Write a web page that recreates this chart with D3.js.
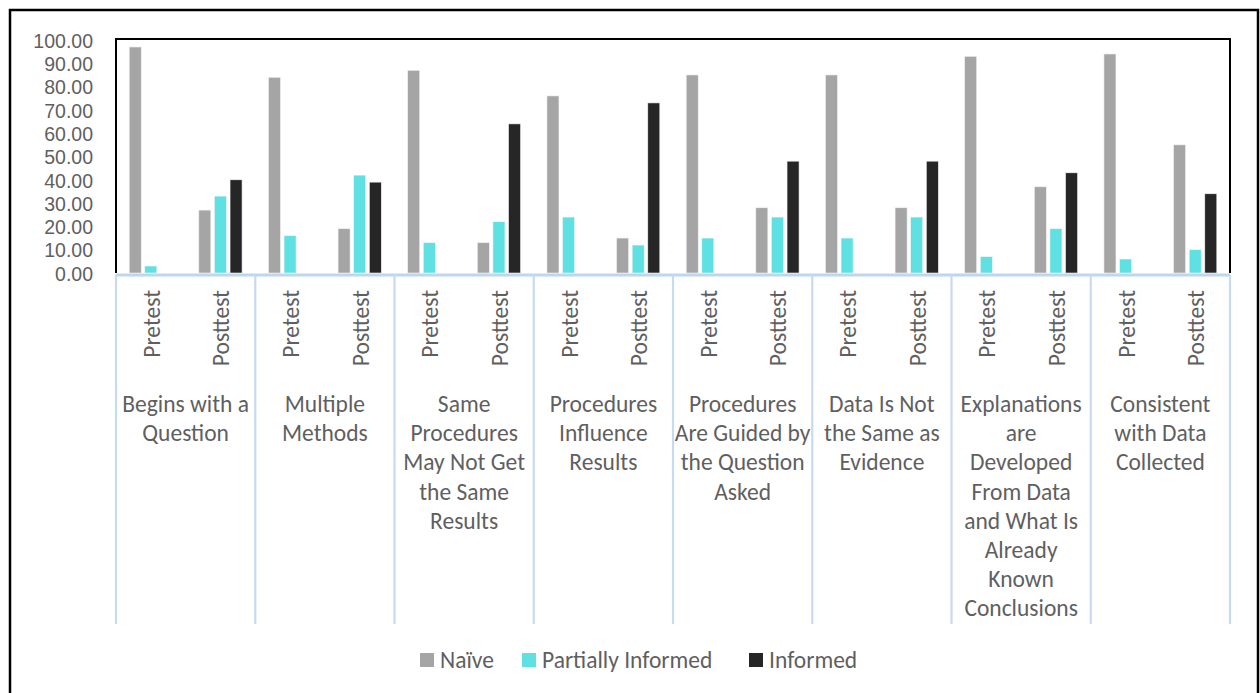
<!DOCTYPE html>
<html>
<head>
<meta charset="utf-8">
<script src="https://cdn.jsdelivr.net/npm/d3@7/dist/d3.min.js"></script>
<style>
  html, body { margin: 0; padding: 0; background: #fff; }
  svg { display: block; }
  text { font-family: Carlito, Lato, "Open Sans", sans-serif; fill: #5f5f5f; }
</style>
</head>
<body>
<svg id="chart" width="1260" height="693"></svg>
<script>
// ---- data ----
const categories = [
  ["Begins with a", "Question"],
  ["Multiple", "Methods"],
  ["Same", "Procedures", "May Not Get", "the Same", "Results"],
  ["Procedures", "Influence", "Results"],
  ["Procedures", "Are Guided by", "the Question", "Asked"],
  ["Data Is Not", "the Same as", "Evidence"],
  ["Explanations", "are", "Developed", "From Data", "and What Is", "Already", "Known", "Conclusions"],
  ["Consistent", "with Data", "Collected"]
];
const phases = ["Pretest", "Posttest"];
const seriesNames = ["Naïve", "Partially Informed", "Informed"];
// values per category: [pretest, posttest]
const naive    = [[97, 27], [84, 19], [87, 13], [76, 15], [85, 28], [85, 28], [93, 37], [94, 55]];
const partial  = [[3, 33], [16, 42], [13, 22], [24, 12], [15, 24], [15, 24], [7, 19], [6, 10]];
const informed = [[0, 40], [0, 39], [0, 64], [0, 73], [0, 48], [0, 48], [0, 43], [0, 34]];
const yTicks = [0, 10, 20, 30, 40, 50, 60, 70, 80, 90, 100];
const colors = ["#a5a5a5", "#5fe1e4", "#262626"];

// ---- layout ----
const svg = d3.select("#chart");
const plot = { left: 116, right: 1230, top: 40, bottom: 273 };
const fontSize = 23.5;
const tickFont = 19.5;

const x0 = d3.scaleBand().domain(d3.range(categories.length)).range([plot.left, plot.right]).padding(0);
const x1 = d3.scaleBand().domain(phases).range([0, x0.bandwidth()]).padding(0);
const x2 = d3.scaleBand().domain(seriesNames).range([0, x1.bandwidth()]).paddingInner(0.23).paddingOuter(0.845);
const y = d3.scaleLinear().domain([0, 100]).range([plot.bottom, plot.top]);

// outer frame
svg.append("rect").attr("x", 10).attr("y", 10).attr("width", 1248).attr("height", 700)
  .attr("fill", "none").attr("stroke", "#000").attr("stroke-width", 2.5);

// bars
const allSeries = [naive, partial, informed];
const barData = [];
categories.forEach((c, ci) => {
  phases.forEach((p, pi) => {
    seriesNames.forEach((s, si) => {
      barData.push({ ci, p, s, si, v: allSeries[si][ci][pi] });
    });
  });
});
svg.append("g").selectAll("rect").data(barData.filter(d => d.v > 0)).join("rect")
  .attr("x", d => x0(d.ci) + x1(d.p) + x2(d.s))
  .attr("y", d => y(d.v))
  .attr("width", x2.bandwidth())
  .attr("height", d => y(0) - y(d.v))
  .attr("fill", d => colors[d.si])
  .attr("stroke", "#f2f2f2").attr("stroke-width", 0.6);

// plot area border (top, left, right)
svg.append("path")
  .attr("d", `M${plot.left},${plot.bottom}V${plot.top - 1}H${plot.right}V${plot.bottom}`)
  .attr("fill", "none").attr("stroke", "#000").attr("stroke-width", 2);

// category axis line
svg.append("line").attr("x1", plot.left).attr("x2", plot.right)
  .attr("y1", plot.bottom + 2).attr("y2", plot.bottom + 2)
  .attr("stroke", "#bdd7ee").attr("stroke-width", 3);

// category dividers
const bounds = d3.range(categories.length + 1).map(i => i < categories.length ? x0(i) : plot.right);
svg.append("g").selectAll("line").data(bounds).join("line")
  .attr("x1", d => d).attr("x2", d => d)
  .attr("y1", plot.bottom + 2).attr("y2", 624)
  .attr("stroke", "#c6dbf0").attr("stroke-width", 2.2);

// y axis
const yAxis = d3.axisLeft(y).tickValues(yTicks).tickSize(0).tickPadding(0)
  .tickFormat(d3.format(".2f"));
const gy = svg.append("g").attr("transform", `translate(93,1)`).call(yAxis);
gy.select(".domain").remove();
gy.selectAll("text").attr("font-size", tickFont)
  .style("font-family", "'Liberation Sans', Arial, sans-serif").style("fill", "#5f5f5f");

// phase labels (rotated)
const phaseLabels = [];
categories.forEach((c, ci) => phases.forEach(p => phaseLabels.push({ ci, p })));
svg.append("g").selectAll("text").data(phaseLabels).join("text")
  .attr("transform", d => `translate(${x0(d.ci) + x1(d.p) + x1.bandwidth() / 2 + 1},290) rotate(-90)`)
  .attr("text-anchor", "end").attr("dominant-baseline", "central")
  .attr("font-size", fontSize)
  .text(d => d.p);

// category labels
const catG = svg.append("g").selectAll("text").data(categories).join("text")
  .attr("text-anchor", "middle").attr("font-size", fontSize);
catG.selectAll("tspan").data((d, i) => d.map((line, li) => ({ line, li, i }))).join("tspan")
  .attr("x", d => x0(d.i) + x0.bandwidth() / 2)
  .attr("y", d => 404 + d.li * 29.2)
  .attr("dominant-baseline", "central")
  .text(d => d.line);

// legend
const legendX = [420, 522, 749];
const lg = svg.append("g").selectAll("g").data(seriesNames).join("g")
  .attr("transform", (d, i) => `translate(${legendX[i]},653)`);
lg.append("rect").attr("width", 14).attr("height", 14).attr("fill", (d, i) => colors[i]);
lg.append("text").attr("x", 20).attr("y", 7).attr("dominant-baseline", "central")
  .attr("font-size", fontSize).text(d => d);
</script>
</body>
</html>
